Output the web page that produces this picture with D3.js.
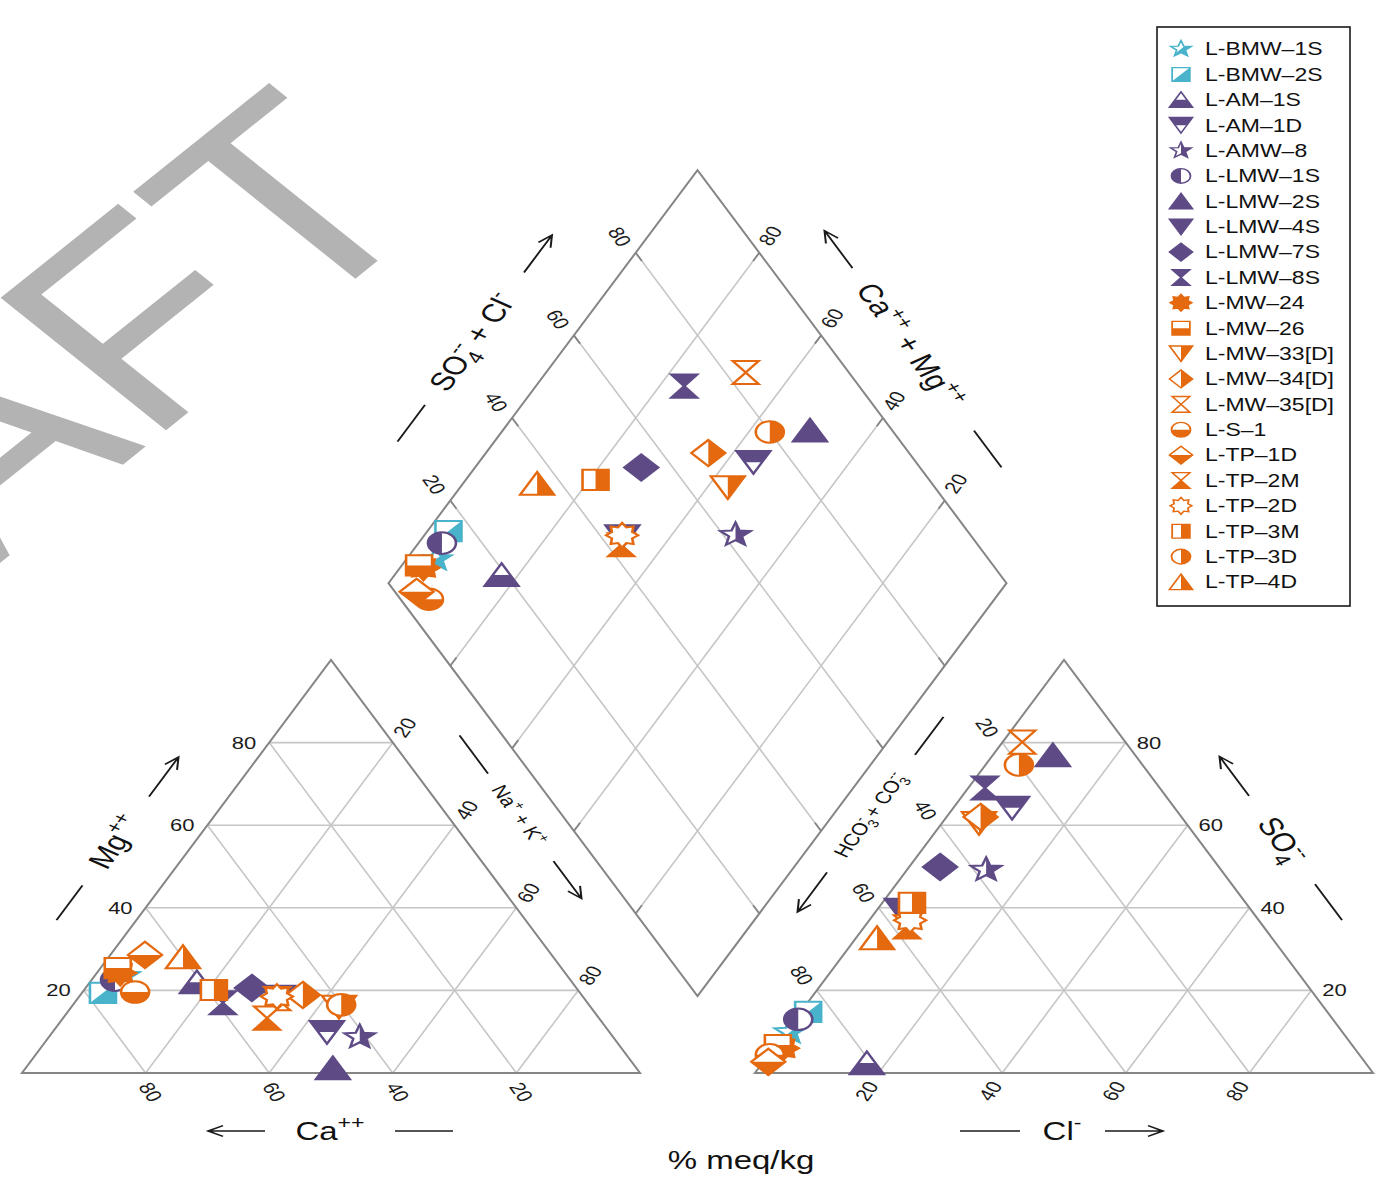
<!DOCTYPE html>
<html><head><meta charset="utf-8">
<script src="https://cdn.jsdelivr.net/npm/d3@7"></script>
<style>
body{margin:0;background:#fff}
svg{display:block}
text{font-family:"Liberation Sans",Arial,Helvetica,sans-serif}
</style>
</head><body>
<svg id="c" width="1389" height="1185"></svg>
<script>
// ---------------- DATA ----------------
const sampleNames = ["L-BMW–1S","L-BMW–2S","L-AM–1S","L-AM–1D","L-AMW–8","L-LMW–1S","L-LMW–2S","L-LMW–4S","L-LMW–7S","L-LMW–8S","L-MW–24","L-MW–26","L-MW–33[D]","L-MW–34[D]","L-MW–35[D]","L-S–1","L-TP–1D","L-TP–2M","L-TP–2D","L-TP–3M","L-TP–3D","L-TP–4D"];
const sampleGroup = ["BMW","BMW","AM","AM","AM","AM","AM","AM","AM","AM","MW","MW","MW","MW","MW","MW","MW","MW","MW","MW","MW","MW"];
const sampleShape = ["star","square","triUp","triDown","star","circle","triUp","triDown","diamond","hourglass","sun","square","triDown","diamond","hourglass","circle","diamond","hourglass","sun","square","circle","triUp"];
const sampleFill  = ["D","D","B","T","R","L","full","full","full","full","full","B","R","R","open","B","B","B","open","R","R","R"];
// cations, % meq/kg
const caPct = [71.7,77.2,60.7,45.7,41.0,73.7,49.1,49.4,52.5,59.0,72.0,71.8,40.7,45.1,49.7,71.9,65.8,53.7,49.5,58.9,40.1,59.9];
const mgPct = [23.5,19.4,22.0, 9.9, 8.7,22.5, 1.2,18.4,20.6,17.0,24.2,25.4,16.0,18.9,18.0,19.6,28.6,13.3,18.5,20.1,16.5,28.1];
const naPct = [ 4.8, 3.4,17.3,44.4,50.3, 3.8,49.7,32.2,26.9,24.0, 3.8, 2.8,43.3,36.0,32.3, 8.5, 5.6,33.0,32.0,21.0,43.4,12.0];
// anions, % meq/kg
const hco3Pct = [89.4,84.0,80.7,26.3,38.0,86.5,13.3,56.5,45.1,28.3,92.5,92.9,33.5,32.5,16.7,95.4,96.5,57.7,56.4,54.0,20.0,63.9];
const so4Pct  = [ 9.9,14.8, 2.4,64.2,49.2,13.0,77.0,39.5,49.9,69.0, 6.0, 6.8,60.5,62.0,80.1, 4.4, 2.7,35.4,37.0,41.2,74.6,32.7];
const clPct   = [ 0.7, 1.2,16.9, 9.5,12.8, 0.5, 9.7, 4.0, 5.0, 2.7, 1.5, 0.3, 6.0, 5.5, 3.2, 0.2, 0.8, 6.9, 6.6, 4.8, 5.4, 3.4];
const tickValues = [20,40,60,80];
const groupColor = {BMW:"#48b3cb", AM:"#5e4b86", MW:"#e4690f"};

// ---------------- GEOMETRY ----------------
const X0=22, SIDE=618, GAP=115, YB=1073, HT=413;
const YS = HT/(SIDE*Math.sqrt(3)/2);     // vertical squash of the whole figure
const g = GAP/SIDE;
const ux = d3.scaleLinear().domain([0, 2+g]).range([X0, X0+2*SIDE+GAP]);
const vy = d3.scaleLinear().domain([0, 1]).range([YB, YB-HT]);
const P = (u,v)=>[ux(u), vy(v)];
const catPos = i => { const t=caPct[i]+mgPct[i]+naPct[i]; const m=mgPct[i]/t, n=naPct[i]/t; return P(n+m/2, m); };
const anPos  = i => { const t=hco3Pct[i]+so4Pct[i]+clPct[i]; const s=so4Pct[i]/t, c=clPct[i]/t; return P(1+g+c+s/2, s); };
const dia = (a,c) => P(1+g/2+(a-c)/2, g+a+c);
const diaPos = i => {
  const tc=caPct[i]+mgPct[i]+naPct[i], ta=hco3Pct[i]+so4Pct[i]+clPct[i];
  return dia((so4Pct[i]+clPct[i])/ta, (caPct[i]+mgPct[i])/tc);
};

const svg = d3.select("#c");
const defs = svg.append("defs");
const clips = {L:"M-40,-40H0V40H-40Z", R:"M0,-40H40V40H0Z", T:"M-40,-40H40V0H-40Z", B:"M-40,0H40V40H-40Z", D:"M40,-40L40,40L-40,40Z"};
Object.entries(clips).forEach(([k,d])=>defs.append("clipPath").attr("id","clip"+k).append("path").attr("d",d));

// ---------------- WATERMARK ----------------
svg.append("text").attr("transform",`translate(440,211) scale(1,0.8) rotate(-45)`)
  .attr("text-anchor","end").attr("font-size",340).attr("fill","#b3b3b3").text("DRAFT");

// ---------------- GRID ----------------
const line = d3.line();
const gridC="#c6c6c6", edgeC="#858585";
const gg = svg.append("g");
const seg=(a,b,col,w)=>gg.append("path").attr("d",line([a,b])).attr("stroke",col).attr("stroke-width",w).attr("fill","none");
tickValues.forEach(t=>{
  const k=t/100;
  // left triangle
  seg(P(k/2,k),P(1-k/2,k),gridC,1.6);
  seg(P(k,0),P((1+k)/2,1-k),gridC,1.6);
  seg(P(1-k,0),P((1-k)/2,1-k),gridC,1.6);
  // right triangle
  const o=1+g;
  seg(P(o+k/2,k),P(o+1-k/2,k),gridC,1.6);
  seg(P(o+k,0),P(o+(1+k)/2,1-k),gridC,1.6);
  seg(P(o+1-k,0),P(o+(1-k)/2,1-k),gridC,1.6);
  // diamond
  seg(dia(k,0),dia(k,1),gridC,1.6);
  seg(dia(0,k),dia(1,k),gridC,1.6);
});
const closed = pts=>gg.append("path").attr("d",line(pts)+"Z").attr("stroke",edgeC).attr("stroke-width",2).attr("fill","none");
closed([P(0,0),P(1,0),P(0.5,1)]);
closed([P(1+g,0),P(2+g,0),P(1.5+g,1)]);
closed([dia(0,0),dia(1,0),dia(1,1),dia(0,1)]);
tickValues.forEach(t=>{
  const k=t/100, e=0.02;
  seg(dia(k,1),dia(k,1-e),edgeC,1.8); seg(dia(k,0),dia(k,e),edgeC,1.8);
  seg(dia(0,k),dia(e,k),edgeC,1.8);   seg(dia(1,k),dia(1-e,k),edgeC,1.8);
});

// ---------------- TICK LABELS ----------------
const tl = svg.append("g").attr("fill","#1a1a1a");
function tick(x,y,txt,rot,anchor){
  tl.append("text").attr("transform",`translate(${x},${y}) scale(1,${YS}) rotate(${rot})`)
    .attr("text-anchor",anchor||"middle").attr("dy","0.35em").attr("font-size",22).text(txt);
}
tickValues.forEach(t=>{
  const k=t/100; let p;
  p=P(k/2,k);               tick(p[0]-13,p[1],t,0,"end");           // Mg
  p=P(1-k,0);               tick(p[0]+5,p[1]+19,t,60);              // Ca
  p=P(k+(1-k)/2,1-k);       tick(p[0]+12,p[1]-15,t,-60);            // Na+K
  p=P(1+g+k,0);             tick(p[0]-12,p[1]+18,t,-60);            // Cl
  p=P(1+g+(1-k)+k/2,k);     tick(p[0]+11,p[1],t,0,"start");         // SO4
  p=P(1+g+(1-k)/2,1-k);     tick(p[0]-15,p[1]-15,t,60);             // HCO3
  p=dia(k,1);               tick(p[0]-16,p[1]-16,t,60);             // SO4+Cl
  p=dia(1,k);               tick(p[0]+11,p[1]-17,t,-60);            // Ca+Mg
});

// ---------------- AXIS TITLES ----------------
function rich(sel, parts, fs){
  const t = sel.append("text").attr("text-anchor","middle").attr("font-size",fs).attr("fill","#111");
  let cur=0, prevW=0, first=true;
  parts.forEach(([s,type])=>{
    const small = type!=="n";
    const size = small? fs*0.7 : fs;
    const target = type==="n"?0 : (type==="sub"?0.28*fs : -0.42*fs);
    const sp = t.append("tspan").attr("font-size",size).attr("dy",(target-cur)+(first?0.35*fs:0)).text(s);
    first=false;
    if(type==="over") sp.attr("dx",-prevW);
    prevW = type==="sub"? s.length*0.556*size : 0;
    cur = target;
  });
  return t;
}
function title(cx,cy,rot,parts,fs,dash,arrow){
  const gr = svg.append("g").attr("transform",`translate(${cx},${cy}) scale(1,${YS}) rotate(${rot})`);
  rich(gr,parts,fs);
  const ap=(p)=>gr.append("path").attr("d",p).attr("stroke","#1a1a1a").attr("stroke-width",2).attr("fill","none");
  ap(`M${dash[0]},0H${dash[1]}`);
  const [a0,a1]=arrow, s=Math.sign(a1-a0);
  ap(`M${a0},0H${a1}M${a1-s*15},-7L${a1},0L${a1-s*15},7`);
}
const FS=33, FSs=22;
title(115,842,-60,[["Mg","n"],["++","sup"]],FS,[-117,-65],[68,127]);
title(519,815,60,[["Na","n"],["+","sup"],[" + K","n"],["+","sup"]],FSs,[-119,-62],[69,125]);
title(330,1131,0,[["Ca","n"],["++","sup"]],FS,[65,123],[-65,-122]);
title(1062,1131,0,[["Cl","n"],["-","sup"]],FS,[-102,-42],[43,101]);
title(1282,840,60,[["SO","n"],["4","sub"],["--","over"]],FS,[66,120],[-66,-125]);
title(870,815,-60,[["HCO","n"],["3","sub"],["-","over"],[" + CO","n"],["3","sub"],["--","over"]],FSs,[90,147],[-86,-145]);
title(472,342,-60,[["SO","n"],["4","sub"],["--","over"],[" + Cl","n"],["-","sup"]],FS,[-149,-94],[104,160]);
title(910,345,60,[["Ca","n"],["++","sup"],[" + Mg","n"],["++","sup"]],FS,[128,183],[-115,-171]);
svg.append("text").attr("transform",`translate(741,1160) scale(1,${YS})`).attr("text-anchor","middle")
  .attr("dy","0.35em").attr("font-size",FS).attr("fill","#111").text("% meq/kg");

// ---------------- MARKERS ----------------
function poly(n,r1,r2){
  const pts=d3.range(2*n).map(i=>{const a=-Math.PI/2+i*Math.PI/n, r=i%2?r2:r1; return [r*Math.cos(a), r*Math.sin(a)];});
  return line(pts)+"Z";
}
const shapePath = {
  circle:"M-14,0A14,14 0 1,0 14,0A14,14 0 1,0 -14,0Z",
  square:"M-13,-13H13V13H-13Z",
  triUp:"M0,-15L17,14.5L-17,14.5Z",
  triDown:"M0,15L17,-14.5L-17,-14.5Z",
  diamond:"M0,-17L17,0L0,17L-17,0Z",
  hourglass:"M-13,-15L13,-15L0,0ZM-13,15L13,15L0,0Z",
  star:poly(5,16,6.8),
  sun:poly(8,16,11)
};
function marker(parent,x,y,i,k){
  const col=groupColor[sampleGroup[i]], d=shapePath[sampleShape[i]], f=sampleFill[i];
  const m=parent.append("g").attr("transform",`translate(${x},${y}) scale(${k},${k*YS})`);
  m.append("path").attr("d",d).attr("fill",f==="full"?col:"#fff").attr("stroke",col).attr("stroke-width",2.6).attr("stroke-linejoin","miter");
  if(f!=="full" && f!=="open") m.append("path").attr("d",d).attr("fill",col).attr("clip-path",`url(#clip${f})`);
}
const mk = svg.append("g");
sampleNames.forEach((_,i)=>{ const p=catPos(i); marker(mk,p[0],p[1],i,1); });
sampleNames.forEach((_,i)=>{ const p=anPos(i);  marker(mk,p[0],p[1],i,1); });
sampleNames.forEach((_,i)=>{ const p=diaPos(i); marker(mk,p[0],p[1],i,1); });

// ---------------- LEGEND ----------------
const lg = svg.append("g");
lg.append("rect").attr("x",1157).attr("y",27).attr("width",193).attr("height",579).attr("fill","#fff").attr("stroke","#1a1a1a").attr("stroke-width",1.6);
const ly = d3.scaleLinear().domain([0,sampleNames.length-1]).range([49,582]);
sampleNames.forEach((n,i)=>{
  marker(lg,1181,ly(i),i,0.68);
  lg.append("text").attr("transform",`translate(1205,${ly(i)}) scale(1,${YS})`).attr("dy","0.36em")
    .attr("font-size",23).attr("fill","#111").text(n);
});
</script>
</body></html>
